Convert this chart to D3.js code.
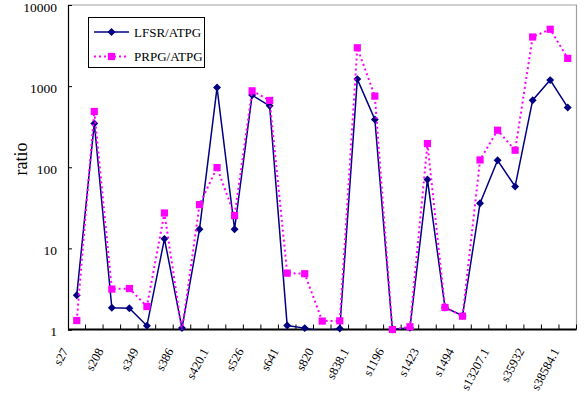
<!DOCTYPE html>
<html>
<head>
<meta charset="utf-8">
<script src="https://cdn.jsdelivr.net/npm/d3@7"></script>
<style>
  body { margin: 0; background: #fff; }
  text { font-family: "Liberation Serif", "Times New Roman", serif; fill: #000; }
</style>
</head>
<body>
<div id="chart"></div>
<script>
// circuits (only every other name is printed on the axis)
var categories = ["s27", "s208.1", "s208", "s298", "s349", "s382", "s386", "s400", "s420.1", "s444",
  "s526", "s526n", "s641", "s713", "s820", "s832", "s838.1", "s953", "s1196", "s1238",
  "s1423", "s1488", "s1494", "s5378", "s13207.1", "s15850.1", "s35932", "s38417", "s38584.1"];

var lfsr = [2.65, 347, 1.85, 1.83, 1.11, 13.1, 1.04, 17.2, 960, 17.2,
  775, 571, 1.12, 1.04, 0.95, 1.03, 1220, 388, 1.0, 1.05,
  70.5, 1.87, 1.48, 36, 122, 58, 671, 1186, 546];

var prpg = [1.29, 487, 3.15, 3.2, 1.92, 27.3, 0.97, 34.6, 99, 25.4,
  875, 666, 4.95, 4.87, 1.27, 1.28, 2970, 753, 1.0, 1.08,
  196, 1.87, 1.46, 123, 286, 162, 4030, 5020, 2197];

var yTicks = [1, 10, 100, 1000, 10000];
var seriesNames = ["LFSR/ATPG", "PRPG/ATPG"];

var W = 584, H = 393;
var plot = {left: 68, right: 576.5, top: 5, bottom: 329.5};

var svg = d3.select("#chart").append("svg")
    .attr("width", W)
    .attr("height", H);

var x = d3.scaleBand()
    .domain(categories)
    .range([plot.left, plot.right])
    .padding(0);

var y = d3.scaleLog()
    .domain([1, 10000])
    .range([plot.bottom, plot.top]);

svg.append("defs").append("clipPath")
    .attr("id", "clip")
  .append("rect")
    .attr("x", plot.left)
    .attr("y", plot.top - 10)
    .attr("width", plot.right - plot.left)
    .attr("height", plot.bottom - plot.top + 10);

// plot area border (top / right grey)
svg.append("path")
    .attr("d", "M" + plot.left + "," + plot.top + "H" + plot.right + "V" + plot.bottom)
    .attr("fill", "none")
    .attr("stroke", "#a0a0a0")
    .attr("stroke-width", 1.2);

// y axis
var yAxis = svg.append("g")
    .attr("transform", "translate(" + plot.left + ",0)")
    .call(d3.axisLeft(y).tickValues(yTicks).tickSize(-4).tickPadding(11).tickFormat(d3.format("d")));
yAxis.select(".domain").attr("stroke", "#000").attr("stroke-width", 1.2);
yAxis.selectAll("text")
    .attr("dy", "0.45em")
    .style("font-family", "Liberation Serif")
    .style("font-size", "13.5px");

svg.append("text")
    .attr("transform", "translate(27,159) rotate(-90)")
    .attr("text-anchor", "middle")
    .style("font-size", "18px")
    .text("ratio");

// x axis: ticks between categories, pointing up
var xg = svg.append("g");
xg.selectAll("line.tick")
    .data(categories.slice(1).concat(["end"]))
    .enter().append("line")
    .attr("x1", function(d, i) { return x(categories[0]) + (i + 1) * x.bandwidth(); })
    .attr("x2", function(d, i) { return x(categories[0]) + (i + 1) * x.bandwidth(); })
    .attr("y1", plot.bottom)
    .attr("y2", plot.bottom - 5)
    .attr("stroke", "#000");
xg.append("line")
    .attr("x1", plot.left).attr("x2", plot.right)
    .attr("y1", plot.bottom).attr("y2", plot.bottom)
    .attr("stroke", "#000")
    .attr("stroke-width", 2);

xg.selectAll("text.lab")
    .data(categories.filter(function(d, i) { return i % 2 === 0; }))
    .enter().append("text")
    .attr("class", "lab")
    .attr("text-anchor", "end")
    .attr("transform", function(d) {
      return "translate(" + (x(d) + x.bandwidth() / 2 - 8) + "," + (plot.bottom + 21.5) + ") rotate(-62)";
    })
    .style("font-size", "12.5px")
    .text(function(d) { return d; });

// series
function cx(i) { return x(categories[i]) + x.bandwidth() / 2; }

var line = function(vals) {
  return d3.line()
    .x(function(d, i) { return cx(i); })
    .y(function(d) { return y(d); })(vals);
};

var diamond = d3.symbol().type(d3.symbolDiamond2).size(40);
var square = d3.symbol().type(d3.symbolSquare).size(52);

var g1 = svg.append("g");
g1.append("path")
    .attr("clip-path", "url(#clip)")
    .attr("d", line(lfsr))
    .attr("fill", "none")
    .attr("stroke", "#000080")
    .attr("stroke-width", 1.5);
g1.selectAll("path.m")
    .data(lfsr)
    .enter().append("path")
    .attr("class", "m")
    .attr("transform", function(d, i) { return "translate(" + cx(i) + "," + y(d) + ")"; })
    .attr("d", diamond)
    .attr("fill", "#000080")
    .style("display", function(d) { return d < 1 ? "none" : null; });

var g2 = svg.append("g");
g2.append("path")
    .attr("clip-path", "url(#clip)")
    .attr("d", line(prpg))
    .attr("fill", "none")
    .attr("stroke", "#ff00ff")
    .attr("stroke-width", 2)
    .attr("stroke-dasharray", "2,3");
g2.selectAll("path.m")
    .data(prpg)
    .enter().append("path")
    .attr("class", "m")
    .attr("transform", function(d, i) { return "translate(" + cx(i) + "," + y(d) + ")"; })
    .attr("d", square)
    .attr("fill", "#ff00ff")
    .style("display", function(d) { return d < 1 ? "none" : null; });

// legend
var lg = svg.append("g");
lg.append("rect")
    .attr("x", 88.5).attr("y", 17.5)
    .attr("width", 116).attr("height", 50)
    .attr("fill", "#fff")
    .attr("stroke", "#000");
var legY = [32, 56.5];
lg.append("line")
    .attr("x1", 94).attr("x2", 129).attr("y1", legY[0]).attr("y2", legY[0])
    .attr("stroke", "#000080").attr("stroke-width", 1.5);
lg.append("path")
    .attr("transform", "translate(111.5," + legY[0] + ")")
    .attr("d", diamond).attr("fill", "#000080");
lg.append("line")
    .attr("x1", 94).attr("x2", 129).attr("y1", legY[1]).attr("y2", legY[1])
    .attr("stroke", "#ff00ff").attr("stroke-width", 2).attr("stroke-dasharray", "2,3");
lg.append("path")
    .attr("transform", "translate(111.5," + legY[1] + ")")
    .attr("d", square).attr("fill", "#ff00ff");
lg.selectAll("text")
    .data(seriesNames)
    .enter().append("text")
    .attr("x", 134)
    .attr("y", function(d, i) { return legY[i]; })
    .attr("dy", "0.35em")
    .style("font-size", "13px")
    .text(function(d) { return d; });
</script>
</body>
</html>
